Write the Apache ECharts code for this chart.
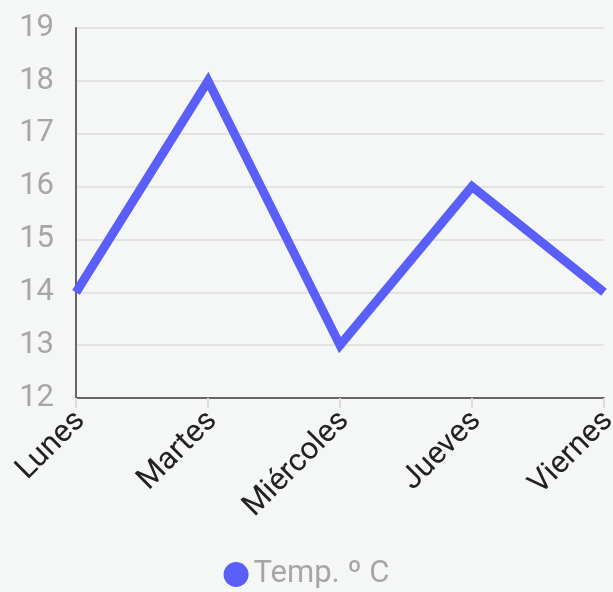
<!DOCTYPE html>
<html><head><meta charset="utf-8">
<script src="https://cdn.jsdelivr.net/npm/echarts@6/dist/echarts.min.js"></script>
<style>html,body{margin:0;padding:0;background:#f5f7f7;}#c{width:613px;height:592px;}</style>
</head><body><div id="c"></div>
<script>
const categories = ['Lunes', 'Martes', 'Miércoles', 'Jueves', 'Viernes'];
const temps = [14, 18, 13, 16, 14];
const seriesName = 'Temp. º C';
const yMin = 12, yMax = 19, yStep = 1;

const chart = echarts.init(document.getElementById('c'));
chart.setOption({
  backgroundColor: '#f5f7f7',
  animation: false,
  grid: { left: 76, right: 9, top: 28, bottom: 194, containLabel: false, outerBoundsMode: 'none' },
  legend: {
    bottom: -3, left: 'center',
    icon: 'circle', itemWidth: 25, itemHeight: 25, itemGap: 10,
    textStyle: { fontFamily: 'Roboto', fontSize: 31, color: '#a6a6a6' },
    data: [seriesName]
  },
  xAxis: {
    type: 'category', data: categories, boundaryGap: false,
    axisLine: { show: true, lineStyle: { color: '#666', width: 2 } },
    axisTick: { show: true, alignWithLabel: true, length: 10, lineStyle: { color: '#dcdcdc', width: 2 } },
    axisLabel: { rotate: 45, margin: 14, fontFamily: 'Roboto', fontSize: 31, color: '#222', interval: 0, verticalAlign: 'top', lineHeight: 12 },
    splitLine: { show: false }
  },
  yAxis: {
    type: 'value', min: yMin, max: yMax, interval: yStep,
    axisLine: { show: true, lineStyle: { color: '#666', width: 2 } },
    axisTick: { show: false },
    axisLabel: { margin: 22, fontFamily: 'Roboto', fontSize: 31, color: '#a6a6a6', padding: [0, 0, 20, 0] },
    splitLine: { show: true, lineStyle: { color: '#dcdcdc', width: 1.5 } }
  },
  series: [{
    name: seriesName, type: 'line', data: temps,
    symbol: 'none', smooth: false,
    lineStyle: { color: '#5a5ffa', width: 9, join: 'miter', cap: 'butt' },
    itemStyle: { color: '#5a5ffa' }
  }]
});
</script></body></html>
